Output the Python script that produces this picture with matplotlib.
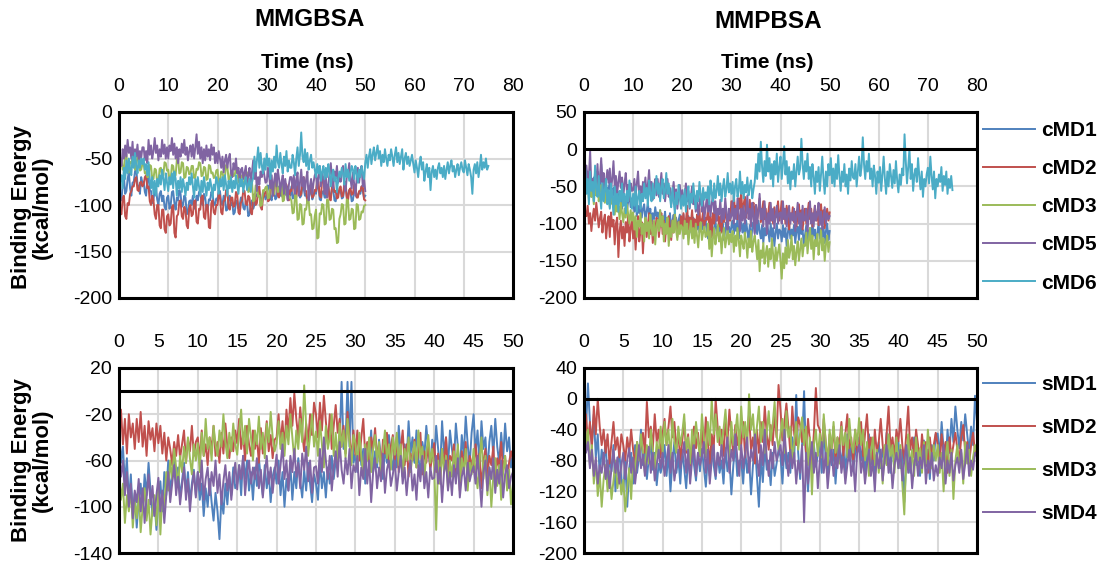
import numpy as np
import matplotlib
matplotlib.use("Agg")
import matplotlib.pyplot as plt

plt.rcParams['font.family'] = ['Liberation Sans', 'DejaVu Sans']
plt.rcParams['axes.unicode_minus'] = False

# ---------------- DATA (values every 0.25 ns) ----------------
# Top-left: MMGBSA, cMD runs
gb_cMD1 = [-80,-92,-95,-78,-70,-88,-85,-72,-65,-82,-90,-76,-75,-64,-60,-78,-80,-88,-70,-76,
           -75,-86,-90,-72,-70,-84,-85,-98,-95,-82,-80,-94,-100,-88,-85,-96,-90,-102,-105,-92,
           -90,-104,-100,-86,-85,-98,-105,-92,-95,-84,-88,-102,-100,-90,-92,-110,-108,-96,-95,-100,
           -90,-104,-102,-90,-95,-86,-85,-98,-100,-88,-92,-104,-105,-94,-95,-86,-88,-99,-100,-93,
           -95,-84,-85,-98,-100,-90,-92,-106,-105,-94,-90,-100,-98,-110,-108,-97,-95,-104,-100,-92,
           -92,-103,-105,-96,-98,-112,-110,-100,-95,-104,-100,-90,-90,-82,-85,-96,-95,-86,-88,-94,
           -90,-79,-80,-92,-95,-84,-85,-94,-92,-80,-82,-90,-90,-76,-78,-89,-88,-80,-85,-90,
           -80,-93,-92,-84,-85,-76,-78,-92,-90,-80,-82,-90,-88,-97,-95,-86,-85,-94,-90,-84,
           -88,-78,-80,-94,-95,-86,-85,-92,-92,-80,-78,-91,-90,-82,-84,-95,-96,-86,-88,-84,
           -85,-93,-92,-82,-80,-91,-90,-84,-86,-96,-95,-83,-82,-91,-90,-86,-88,-80,-85,-92,-90]
gb_cMD2 = [-95,-108,-110,-92,-90,-112,-115,-98,-100,-88,-85,-80,-80,-72,-70,-84,-85,-76,-75,-80,
           -78,-70,-68,-82,-80,-96,-100,-90,-95,-110,-115,-100,-100,-122,-125,-105,-105,-126,-130,-112,
           -110,-122,-120,-102,-100,-130,-135,-112,-110,-96,-95,-112,-115,-102,-105,-122,-125,-104,-100,-112,
           -110,-96,-95,-118,-120,-104,-105,-90,-90,-113,-115,-100,-100,-124,-125,-98,-95,-108,-110,-100,
           -100,-88,-90,-108,-110,-96,-95,-84,-85,-103,-105,-92,-92,-102,-100,-86,-88,-108,-110,-98,
           -95,-84,-85,-99,-100,-90,-92,-108,-110,-92,-88,-100,-98,-82,-80,-102,-105,-92,-90,-86,
           -85,-96,-95,-80,-80,-90,-88,-74,-75,-90,-92,-80,-82,-92,-90,-77,-78,-94,-95,-84,
           -85,-76,-78,-92,-92,-80,-80,-90,-88,-72,-70,-84,-85,-96,-95,-82,-80,-92,-90,-84,
           -85,-74,-75,-90,-92,-72,-70,-86,-88,-80,-80,-94,-95,-80,-78,-86,-85,-93,-92,-82,
           -80,-91,-90,-76,-75,-93,-95,-84,-82,-89,-88,-78,-78,-92,-92,-85,-85,-80,-80,-94,-95]
gb_cMD3 = [-70,-52,-50,-62,-60,-46,-45,-64,-65,-54,-55,-48,-50,-62,-60,-47,-48,-63,-62,-56,
           -55,-66,-65,-70,-70,-57,-58,-72,-72,-61,-62,-76,-75,-61,-60,-70,-68,-54,-55,-63,
           -62,-73,-72,-57,-58,-69,-68,-51,-50,-66,-65,-54,-55,-71,-70,-59,-60,-67,-66,-58,
           -58,-71,-70,-61,-62,-54,-55,-69,-68,-59,-60,-73,-72,-57,-58,-66,-65,-71,-70,-63,
           -62,-76,-75,-64,-65,-71,-70,-57,-58,-73,-72,-63,-64,-69,-68,-59,-60,-76,-75,-69,
           -68,-79,-78,-64,-65,-86,-85,-74,-75,-96,-95,-79,-80,-91,-90,-101,-100,-84,-85,-81,
           -80,-93,-92,-74,-75,-89,-88,-69,-70,-86,-85,-77,-78,-96,-95,-81,-82,-91,-90,-93,
           -95,-109,-108,-89,-90,-116,-115,-99,-100,-121,-120,-104,-105,-94,-95,-111,-110,-126,-125,-112,
           -105,-136,-135,-109,-110,-99,-100,-121,-120,-94,-95,-116,-115,-104,-105,-126,-125,-141,-140,-115,
           -110,-99,-100,-121,-120,-94,-95,-116,-115,-104,-105,-126,-125,-99,-100,-116,-115,-107,-108,-101,-100]
gb_cMD5 = [-65,-52,-58,-40,-50,-36,-48,-30,-44,-38,-50,-32,-55,-40,-48,-35,-52,-42,-50,-38,
           -38,-52,-42,-55,-30,-46,-36,-50,-42,-28,-44,-36,-52,-40,-48,-30,-45,-35,-50,-38,
           -50,-36,-42,-28,-46,-34,-50,-38,-55,-40,-48,-34,-44,-30,-46,-38,-52,-42,-36,-48,
           -35,-50,-38,-24,-45,-32,-50,-38,-55,-40,-52,-36,-48,-40,-52,-35,-46,-38,-55,-44,
           -55,-42,-50,-60,-48,-65,-52,-46,-60,-50,-45,-66,-70,-55,-62,-50,-66,-60,-75,-62,
           -60,-72,-65,-58,-80,-68,-60,-75,-65,-52,-72,-62,-85,-70,-78,-64,-70,-58,-68,-76,
           -75,-60,-70,-82,-68,-90,-74,-66,-80,-62,-72,-86,-75,-68,-88,-72,-82,-95,-78,-70,
           -70,-82,-68,-88,-72,-65,-90,-76,-62,-80,-70,-86,-72,-64,-95,-80,-72,-88,-76,-68,
           -65,-82,-70,-58,-80,-66,-72,-88,-70,-92,-78,-66,-55,-72,-82,-64,-70,-58,-76,-68,
           -75,-62,-58,-80,-85,-70,-66,-55,-72,-82,-65,-78,-90,-72,-60,-76,-64,-58,-80,-72,-85]
gb_cMD6 = [-95,-72,-68,-82,-60,-72,-52,-66,-50,-62,-68,-48,-60,-44,-58,-66,-52,-60,-50,-56,
           -50,-62,-56,-68,-54,-72,-82,-70,-88,-74,-90,-72,-80,-68,-78,-62,-72,-84,-66,-76,
           -85,-70,-78,-66,-82,-64,-72,-90,-74,-82,-70,-86,-72,-80,-90,-76,-84,-70,-78,-66,
           -80,-92,-72,-84,-70,-80,-90,-74,-86,-70,-80,-90,-76,-84,-72,-80,-92,-78,-84,-70,
           -75,-88,-72,-80,-70,-84,-68,-78,-90,-74,-82,-70,-86,-74,-82,-68,-78,-88,-72,-80,
           -72,-86,-76,-70,-84,-78,-72,-86,-76,-70,-48,-64,-52,-38,-60,-44,-58,-66,-50,-62,
           -45,-58,-50,-72,-52,-64,-48,-60,-36,-54,-60,-44,-56,-66,-48,-58,-42,-64,-52,-60,
           -60,-46,-54,-68,-50,-38,-58,-46,-22,-48,-54,-40,-58,-44,-62,-52,-46,-60,-54,-62,
           -70,-56,-66,-58,-74,-64,-58,-72,-60,-70,-56,-64,-80,-68,-62,-74,-70,-86,-72,-64,
           -70,-60,-66,-78,-56,-70,-62,-74,-66,-58,-62,-72,-58,-66,-76,-62,-70,-58,-66,-72,
           -55,-46,-60,-48,-40,-56,-46,-38,-52,-44,-36,-50,-42,-58,-46,-54,-40,-50,-58,-46,
           -52,-40,-48,-58,-46,-38,-54,-44,-56,-48,-40,-62,-50,-44,-56,-48,-58,-52,-46,-56,
           -65,-52,-60,-70,-56,-48,-62,-54,-74,-64,-56,-70,-60,-84,-64,-58,-70,-62,-72,-60,
           -55,-66,-60,-70,-58,-72,-62,-54,-66,-58,-52,-64,-58,-70,-62,-56,-68,-60,-54,-62,
           -65,-52,-60,-68,-56,-62,-70,-88,-62,-56,-66,-54,-70,-60,-46,-62,-54,-60,-50,-62,-58]

# Top-right: MMPBSA, cMD runs
pb_cMD1 = [-40,-58,-50,-30,-52,-44,-64,-50,-38,-60,-46,-30,-62,-50,-20,-48,-56,-40,-64,-52,
           -55,-42,-60,-70,-52,-62,-48,-58,-74,-56,-66,-80,-60,-72,-64,-82,-70,-60,-78,-66,
           -70,-84,-68,-90,-76,-86,-72,-92,-80,-74,-96,-84,-72,-90,-80,-100,-86,-94,-78,-90,
           -85,-98,-82,-104,-90,-96,-84,-106,-92,-100,-86,-110,-96,-88,-102,-92,-108,-96,-88,-100,
           -100,-88,-108,-94,-104,-90,-112,-98,-106,-92,-116,-100,-108,-96,-112,-102,-94,-108,-100,-96,
           -110,-120,-104,-124,-100,-116,-106,-96,-114,-104,-118,-98,-110,-100,-122,-108,-98,-116,-104,-112,
           -105,-96,-114,-100,-110,-92,-120,-104,-98,-112,-100,-116,-96,-110,-120,-102,-126,-106,-98,-112,
           -100,-114,-96,-110,-120,-102,-126,-106,-116,-98,-110,-124,-100,-118,-106,-130,-112,-100,-120,-108,
           -110,-124,-102,-118,-106,-130,-112,-100,-120,-108,-116,-102,-126,-110,-104,-122,-98,-114,-108,-130,
           -115,-102,-124,-110,-106,-120,-98,-116,-108,-130,-112,-100,-120,-106,-118,-104,-126,-110,-100,-122,-110]
pb_cMD2 = [-70,-84,-90,-76,-100,-86,-110,-92,-80,-96,-72,-88,-105,-92,-84,-112,-96,-88,-120,-100,
           -90,-118,-85,-104,-95,-128,-100,-92,-145,-110,-96,-120,-104,-130,-98,-112,-88,-124,-106,-95,
           -120,-100,-135,-108,-90,-124,-110,-98,-140,-106,-94,-118,-102,-86,-114,-96,-126,-104,-112,-92,
           -95,-118,-100,-86,-114,-96,-124,-102,-110,-90,-106,-122,-96,-112,-88,-104,-118,-98,-108,-90,
           -105,-86,-114,-96,-76,-108,-92,-100,-82,-106,-94,-116,-88,-102,-80,-110,-96,-84,-104,-92,
           -95,-80,-108,-90,-118,-86,-100,-76,-96,-86,-104,-90,-112,-84,-98,-78,-94,-106,-88,-96,
           -70,-88,-62,-84,-76,-94,-66,-80,-56,-88,-74,-64,-92,-78,-86,-68,-96,-80,-72,-90,
           -75,-94,-80,-66,-98,-84,-70,-94,-80,-104,-86,-72,-96,-82,-100,-78,-92,-84,-70,-96,
           -85,-70,-94,-80,-100,-76,-90,-108,-86,-94,-78,-98,-84,-104,-88,-74,-96,-82,-108,-90,
           -80,-100,-86,-72,-94,-80,-104,-90,-76,-96,-84,-102,-88,-74,-98,-82,-106,-92,-80,-96,-85]
pb_cMD3 = [-50,-36,-58,-46,-68,-42,-64,-54,-74,-50,-62,-40,-70,-56,-48,-66,-58,-72,-52,-64,
           -60,-78,-56,-74,-66,-88,-70,-84,-76,-94,-72,-86,-98,-80,-92,-74,-88,-100,-82,-96,
           -85,-108,-90,-118,-96,-104,-86,-114,-100,-124,-92,-110,-98,-120,-88,-106,-116,-96,-128,-104,
           -95,-110,-82,-104,-90,-124,-100,-114,-92,-130,-106,-118,-96,-112,-84,-108,-122,-98,-114,-102,
           -105,-120,-96,-114,-100,-128,-110,-96,-120,-106,-126,-100,-116,-132,-108,-98,-122,-112,-104,-118,
           -115,-100,-134,-110,-144,-120,-106,-128,-116,-102,-124,-112,-140,-118,-106,-132,-120,-108,-128,-114,
           -125,-110,-138,-116,-130,-106,-122,-144,-116,-126,-134,-112,-124,-146,-120,-132,-110,-138,-124,-116,
           -130,-148,-122,-164,-136,-146,-126,-154,-140,-130,-158,-134,-148,-120,-142,-160,-132,-150,-138,-128,
           -150,-174,-140,-160,-132,-154,-122,-146,-136,-116,-148,-130,-156,-138,-124,-150,-134,-120,-144,-128,
           -130,-112,-140,-122,-106,-134,-116,-148,-122,-130,-114,-142,-126,-108,-136,-120,-150,-128,-116,-138,-125]
pb_cMD5 = [-30,-48,-22,-44,-36,-2,-52,-40,-60,-30,-46,-20,-54,-38,-12,-44,-32,-56,-42,-28,
           -45,-26,-54,-40,-16,-50,-36,-60,-44,-30,-52,-38,-64,-46,-32,-58,-48,-70,-46,-56,
           -55,-40,-64,-46,-30,-60,-50,-70,-44,-54,-38,-62,-48,-28,-58,-44,-68,-52,-40,-62,
           -40,-64,-50,-32,-60,-46,-70,-54,-40,-64,-52,-74,-58,-44,-68,-54,-80,-62,-48,-72,
           -55,-74,-60,-46,-70,-56,-80,-64,-50,-74,-62,-84,-70,-88,-74,-60,-84,-68,-94,-78,
           -65,-84,-70,-90,-74,-60,-86,-70,-96,-80,-88,-68,-98,-80,-94,-66,-84,-108,-80,-94,
           -90,-70,-100,-80,-94,-66,-86,-110,-80,-96,-76,-100,-86,-62,-94,-80,-104,-72,-90,-114,
           -75,-100,-84,-60,-94,-80,-104,-70,-90,-114,-86,-100,-72,-96,-80,-106,-90,-76,-100,-86,
           -85,-100,-70,-94,-80,-104,-90,-76,-100,-86,-96,-80,-110,-90,-72,-100,-86,-106,-76,-96,
           -95,-80,-110,-90,-70,-100,-86,-104,-76,-96,-88,-72,-102,-84,-108,-92,-78,-100,-86,-94,-90]
pb_cMD6 = [-50,-26,-60,-40,-74,-30,-56,-44,-70,-22,-52,-64,-36,-60,-80,-46,-70,-54,-40,-74,
           -55,-80,-46,-64,-88,-50,-74,-60,-84,-56,-70,-46,-76,-60,-86,-56,-70,-42,-66,-80,
           -60,-76,-50,-84,-64,-56,-80,-60,-70,-46,-66,-52,-76,-42,-60,-70,-46,-66,-56,-36,
           -60,-46,-70,-50,-40,-66,-56,-32,-60,-46,-64,-78,-52,-70,-86,-58,-74,-48,-66,-80,
           -62,-76,-54,-84,-66,-50,-78,-60,-72,-46,-64,-80,-56,-70,-44,-62,-76,-52,-68,-58,
           -66,-50,-74,-42,-60,-70,-46,-66,-56,-36,-62,-46,-70,-52,-40,-64,-54,-32,-58,-46,
           -60,-44,-70,-50,-40,-64,-56,-30,-60,-44,-66,-48,-58,-38,-62,-50,-42,-66,-54,-44,
           -20,-40,-6,-30,10,-24,-44,-16,-36,6,-30,-12,-40,-20,-50,-16,-34,-6,-44,-24,
           -10,-40,-20,4,-34,-16,-46,-24,-54,-30,-40,-20,-50,-30,-10,-34,-26,14,-20,-40,
           -16,-30,-6,-40,-24,-50,-20,-36,-60,-30,-44,-24,-56,-34,-10,-40,-60,-30,-50,-20,
           -35,-12,-46,-26,-50,-20,-40,-8,-36,-56,-30,-44,-20,-50,-34,-60,-26,-42,-16,-38,
           -40,-20,-50,-30,-10,-36,-24,16,-20,-40,-16,-30,-6,-40,-26,-50,-22,-36,-60,-30,
           -45,-24,-56,-34,-10,-40,-60,-30,-50,-20,-36,-52,-28,-46,-16,-42,-58,-34,-48,-26,
           -35,20,-16,-46,-24,0,-40,-20,-56,-34,-26,-44,-12,-36,-54,-30,-64,-40,-50,-34,
           -25,-46,-10,-36,-54,-30,-66,-40,-50,-34,-44,-24,-56,-36,-48,-30,-60,-40,-52,-36,-55]

# Bottom-left: MMGBSA, sMD runs
gb_sMD1 = [-30,-62,-48,-80,-58,-96,-72,-106,-88,-118,-94,-80,-104,-72,-90,-62,-86,-108,-94,-120,
           -95,-78,-104,-70,-90,-60,-86,-74,-56,-80,-66,-92,-78,-62,-88,-70,-96,-80,-68,-90,
           -70,-94,-80,-108,-84,-100,-76,-96,-112,-88,-104,-128,-92,-106,-80,-98,-74,-90,-66,-84,
           -80,-64,-90,-56,-76,-60,-86,-70,-94,-66,-82,-58,-76,-90,-64,-84,-70,-96,-74,-66,
           -80,-60,-90,-70,-100,-76,-86,-64,-94,-70,-84,-58,-78,-92,-68,-86,-62,-80,-96,-72,
           -80,-94,-60,-84,-70,-92,-66,-80,-56,-76,-60,-52,-44,8,-50,-44,8,-48,8,-62,
           -55,-70,-40,-64,-50,-80,-46,-60,-34,-70,-52,-66,-42,-58,-76,-48,-62,-38,-56,-68,
           -50,-66,-30,-54,-74,-46,-60,-26,-54,-40,-62,-34,-58,-72,-44,-56,-30,-50,-66,-42,
           -60,-30,-50,-70,-26,-54,-40,-66,-34,-50,-62,-28,-48,-72,-38,-56,-22,-46,-64,-36,
           -20,-54,-34,-64,-26,-50,-40,-70,-44,-30,-56,-24,-48,-62,-36,-58,-28,-52,-40,-66,-55]
gb_sMD2 = [-40,-16,-46,-24,-54,-20,-40,-28,-50,-24,-44,-18,-48,-30,-56,-26,-42,-32,-52,-28,
           -45,-30,-54,-36,-60,-40,-50,-64,-44,-56,-38,-58,-46,-34,-62,-42,-52,-30,-56,-44,
           -40,-60,-34,-56,-46,-64,-40,-50,-30,-56,-44,-62,-36,-54,-28,-48,-58,-40,-52,-34,
           -45,-24,-50,-36,-60,-30,-46,-56,-34,-50,-40,-62,-32,-54,-44,-26,-52,-38,-58,-42,
           -40,-20,-46,-26,-50,-16,-36,-6,-30,-2,-24,-40,-14,-36,-52,-28,-44,-20,-38,-10,
           -20,-40,-10,-34,-4,-26,-46,-20,-50,-30,-12,-36,-24,-48,-30,-54,-18,-40,-58,-34,
           -55,-34,-60,-40,-24,-56,-44,-66,-40,-50,-32,-58,-46,-70,-42,-54,-36,-62,-48,-38,
           -60,-40,-70,-50,-34,-64,-46,-74,-54,-60,-42,-66,-50,-36,-72,-52,-62,-44,-68,-56,
           -45,-70,-54,-80,-50,-64,-40,-74,-56,-60,-46,-72,-58,-86,-52,-66,-44,-76,-56,-62,
           -70,-46,-64,-54,-84,-60,-50,-74,-56,-64,-48,-78,-58,-66,-44,-70,-56,-82,-62,-52,-60]
gb_sMD3 = [-70,-94,-80,-114,-90,-104,-84,-118,-96,-110,-88,-122,-100,-84,-112,-94,-124,-102,-90,-116,
           -80,-124,-90,-100,-70,-86,-60,-76,-50,-66,-82,-56,-70,-48,-62,-40,-58,-72,-46,-60,
           -45,-70,-36,-56,-24,-50,-40,-60,-30,-46,-56,-34,-48,-20,-44,-58,-36,-52,-28,-46,
           -55,-34,-16,-46,-30,-54,-24,-40,-60,-34,-46,-22,-50,-36,-58,-28,-44,-18,-40,-52,
           -45,-26,-50,-36,-56,-30,-46,-20,-40,-60,-34,-50,-24,-44,5,-30,-56,-38,-20,-48,
           -35,-56,-26,-46,-66,-30,-50,-40,-20,-56,-36,-62,-28,-48,-34,-58,-24,-44,-64,-38,
           -45,-64,-36,-56,-74,-46,-60,-40,-70,-50,-38,-62,-44,-72,-52,-34,-58,-46,-68,-40,
           -55,-36,-64,-46,-74,-50,-60,-40,-70,-56,-44,-66,-34,-58,-48,-76,-54,-38,-62,-50,
           -65,-120,-60,-80,-50,-70,-56,-84,-60,-74,-52,-66,-46,-78,-58,-70,-50,-86,-62,-72,
           -50,-70,-84,-60,-40,-76,-56,-90,-66,-100,-74,-58,-82,-64,-94,-70,-56,-86,-68,-98,-80]
gb_sMD4 = [-50,-74,-60,-90,-70,-100,-80,-110,-86,-96,-76,-104,-84,-114,-92,-72,-98,-82,-108,-90,
           -75,-104,-86,-114,-90,-70,-96,-80,-64,-90,-74,-98,-82,-66,-94,-76,-104,-84,-70,-92,
           -70,-86,-60,-94,-76,-66,-90,-70,-82,-60,-88,-72,-98,-78,-64,-86,-70,-94,-76,-62,
           -85,-64,-76,-56,-90,-70,-60,-80,-66,-76,-58,-84,-68,-92,-72,-56,-80,-66,-88,-70,
           -55,-80,-64,-46,-76,-60,-86,-56,-70,-50,-74,-62,-84,-54,-68,-48,-78,-60,-88,-66,
           -65,-80,-50,-70,-40,-60,-76,-56,-86,-66,-52,-74,-44,-68,-80,-58,-72,-50,-84,-64,
           -70,-56,-90,-66,-76,-50,-80,-60,-96,-70,-58,-84,-66,-78,-54,-88,-68,-60,-82,-72,
           -60,-86,-70,-56,-80,-66,-90,-70,-60,-86,-72,-94,-64,-78,-56,-84,-70,-92,-66,-76,
           -75,-56,-80,-66,-96,-70,-60,-86,-70,-90,-64,-80,-58,-92,-74,-66,-86,-62,-78,-70,
           -65,-80,-56,-76,-100,-70,-60,-86,-66,-76,-58,-88,-68,-80,-60,-92,-72,-64,-84,-74,-70]

# Bottom-right: MMPBSA, sMD runs
pb_sMD1 = [0,-40,20,-30,-60,-20,-76,-46,-100,-66,-84,-54,-110,-76,-94,-60,-120,-86,-70,-104,
           -120,-80,-140,-90,-70,-110,-60,-96,-76,-40,-86,-64,-104,-76,-56,-92,-70,-112,-84,-96,
           -85,-60,-100,-70,-120,-80,-56,-96,-76,-110,-66,-90,-116,-76,-100,-60,-86,-106,-70,-94,
           -65,-90,-114,-76,-100,-60,-86,-104,-70,-96,-80,-110,-64,-94,-76,-124,-86,-60,-100,-80,
           -80,-110,-66,-96,-76,-124,-86,-60,-100,-140,-76,-108,-62,-92,-80,-112,-70,-100,-84,-66,
           -75,-110,-60,-90,-70,-96,-50,-76,5,-70,-104,-60,10,-80,-120,-70,-96,-60,-88,-72,
           -60,-96,-40,-76,-100,-56,-86,-66,-110,-70,-52,-88,-64,-100,-46,-80,-62,-94,-70,-56,
           -50,-80,-60,-96,-70,-46,-86,-66,-100,-76,-56,-90,-64,-84,-44,-74,-96,-60,-82,-70,
           -55,-90,-66,-134,-80,-60,-96,-70,-50,-86,-64,-100,-72,-54,-88,-66,-104,-60,-80,-46,
           -45,-76,-30,-66,-90,-40,-70,-26,-56,-10,-40,-64,-30,-54,-20,-46,-70,-36,-60,4,-30]
pb_sMD2 = [-40,-20,-56,-30,-64,-10,-46,0,-36,-60,-40,-70,-46,-84,-56,-30,-66,-50,-76,-46,
           -60,-80,-50,-70,-40,-66,-86,-56,-76,-60,-44,-70,-4,-50,-36,-66,-20,-56,-40,-76,
           -45,-26,-60,-36,-10,-50,-30,-66,-44,-80,-54,-30,-70,-46,-86,-56,-36,-64,-44,-74,
           -40,-70,-24,-56,-84,-46,-66,0,-36,-60,-40,-74,-30,-56,-14,-50,-70,-34,-60,-44,
           -60,-30,-76,-44,-20,-66,-50,-84,-40,-70,-30,-56,-10,-46,-66,-34,-60,-20,-50,18,
           -15,-54,-30,-6,-36,-70,-10,-46,-60,-24,-34,-56,-40,-70,-26,-56,-84,-44,14,-34,
           -40,-70,-26,-56,-84,-46,-66,-36,-80,-50,-60,-30,-74,-46,-20,-64,-50,-86,-40,-70,
           -60,-30,-76,-46,-20,-64,-50,-86,-40,-70,-56,-26,-60,-80,-46,-10,-66,-50,-76,-40,
           -55,-26,-60,-80,-46,-10,-66,-50,-76,-40,-60,-86,-46,-70,-56,-96,-50,-76,-60,-44,
           -60,-86,-46,-70,-56,-96,-50,-76,-60,-44,-66,-80,-50,-34,-70,-56,-84,-60,-44,-70,-65]
pb_sMD3 = [-20,-60,-40,-86,-60,-110,-80,-126,-96,-140,-104,-86,-120,-94,-130,-106,-80,-116,-96,-124,
           -105,-146,-116,-90,-130,-76,-100,-56,-80,-46,-70,-96,-60,-84,-40,-66,-90,-56,-76,-36,
           -70,-30,-60,-40,-80,-26,-56,-70,-36,-60,-44,-20,-66,-50,-84,-40,-64,-30,-56,-74,
           -20,-50,-76,-30,-60,0,-46,-20,-56,-36,-64,-40,-14,-54,-76,-30,-60,-44,-20,-66,
           -10,-50,-30,-66,6,-40,-20,-60,-36,-10,-56,-30,-70,-44,-16,-54,-34,-4,-46,-66,
           -45,-26,-70,-16,-50,-36,-80,-56,-30,-66,-44,-24,-60,-36,-86,-50,-124,-60,-40,-74,
           -45,-76,-20,-56,-86,-40,-66,-30,-70,-50,-84,-36,-60,-44,-76,-26,-56,-70,-40,-60,
           -25,-60,-40,-80,-56,-100,-70,-50,-86,-66,-96,-70,-110,-60,-86,-46,-76,-60,-96,-50,
           -90,-60,-110,-150,-76,-46,-90,-66,-100,-50,-80,-64,-96,-56,-84,-40,-70,-90,-60,-80,
           -60,-96,-70,-120,-76,-56,-100,-66,-130,-80,-60,-90,-70,-110,-56,-84,-66,-100,-76,-60,-70]
pb_sMD4 = [-40,-70,-56,-90,-66,-100,-76,-110,-86,-96,-70,-104,-80,-116,-90,-66,-96,-76,-110,-86,
           -70,-104,-80,-64,-96,-76,-110,-86,-60,-90,-72,-100,-80,-62,-96,-70,-106,-86,-66,-90,
           -70,-100,-80,-60,-96,-70,-106,-86,-66,-90,-76,-56,-96,-66,-110,-80,-60,-100,-70,-86,
           -75,-56,-96,-66,-110,-80,-60,-100,-70,-86,-60,-90,-70,-50,-96,-66,-80,-46,-76,-100,
           -60,-90,-70,-50,-96,-66,-80,-46,-76,-100,-60,-86,-40,-76,-100,-66,-90,-56,-80,-70,
           -60,-86,-40,-76,-100,-66,-90,-70,-110,-80,-96,-60,-160,-70,-110,-80,-56,-96,-70,-116,
           -80,-56,-96,-70,-116,-86,-66,-100,-76,-90,-60,-96,-76,-110,-86,-66,-100,-80,-120,-70,
           -60,-96,-76,-110,-86,-66,-100,-80,-120,-70,-90,-66,-106,-80,-60,-96,-76,-116,-86,-70,
           -90,-66,-106,-80,-60,-96,-76,-116,-86,-70,-100,-76,-90,-60,-110,-80,-96,-70,-106,-86,
           -100,-76,-90,-60,-110,-80,-96,-70,-106,-86,-76,-96,-66,-104,-84,-60,-100,-80,-92,-70,-75]

c_labels = ["cMD1", "cMD2", "cMD3", "cMD5", "cMD6"]
s_labels = ["sMD1", "sMD2", "sMD3", "sMD4"]
c_end = [50, 50, 50, 50, 75]   # run length (ns)
s_end = [50, 50, 50, 50]

colors5 = ["#4F81BD", "#C0504D", "#9BBB59", "#8064A2", "#4BACC6"]

# ---------------- FIGURE ----------------
W, H = 1114, 563
fig = plt.figure(figsize=(W / 100, H / 100), dpi=100)


def box(x0, x1, y0, y1):
    return [x0 / W, 1 - y1 / H, (x1 - x0) / W, (y1 - y0) / H]


ax_tl = fig.add_axes(box(119, 513, 112, 298))
ax_tr = fig.add_axes(box(584, 977, 112, 298))
ax_bl = fig.add_axes(box(119, 513, 368, 553))
ax_br = fig.add_axes(box(584, 977, 368, 553))

TICK_FS = 14
LAB_FS = 16


def style(ax, xlim, xticks, ylim, yticks, zero_line):
    ax.set_xlim(*xlim)
    ax.set_ylim(*ylim)
    ax.set_xticks(xticks)
    ax.set_yticks(yticks)
    ax.xaxis.tick_top()
    ax.tick_params(axis='both', length=0, labelsize=TICK_FS, colors='black')
    ax.tick_params(axis='x', pad=12)
    ax.tick_params(axis='y', pad=5)
    ax.grid(True, color='#d9d9d9', lw=1.5)
    ax.set_axisbelow(True)
    for s in ax.spines.values():
        s.set_linewidth(2.2)
        s.set_color('black')
        s.set_zorder(10)
    if zero_line:
        ax.axhline(0, color='black', lw=2.2, zorder=5)


def draw(ax, series, ends, labels):
    for vals, end, lab, col in zip(series, ends, labels, colors5):
        t = np.linspace(0, end, len(vals))
        ax.plot(t, vals, color=col, lw=1.4, label=lab, zorder=3)


draw(ax_tl, [gb_cMD1, gb_cMD2, gb_cMD3, gb_cMD5, gb_cMD6], c_end, c_labels)
draw(ax_tr, [pb_cMD1, pb_cMD2, pb_cMD3, pb_cMD5, pb_cMD6], c_end, c_labels)
draw(ax_bl, [gb_sMD1, gb_sMD2, gb_sMD3, gb_sMD4], s_end, s_labels)
draw(ax_br, [pb_sMD1, pb_sMD2, pb_sMD3, pb_sMD4], s_end, s_labels)

style(ax_tl, (0, 80), range(0, 81, 10), (-200, 0), range(-200, 1, 50), False)
style(ax_tr, (0, 80), range(0, 81, 10), (-200, 50), range(-200, 51, 50), True)
style(ax_bl, (0, 50), range(0, 51, 5), (-140, 20), range(-140, 21, 40), True)
style(ax_br, (0, 50), range(0, 51, 5), (-200, 40), range(-200, 41, 40), True)

# Titles & axis labels
fig.text(310 / W, 1 - 20 / H, "MMGBSA", ha='center', va='center', fontsize=17.5, fontweight='bold')
fig.text(768 / W, 1 - 22 / H, "MMPBSA", ha='center', va='center', fontsize=17.5, fontweight='bold')
fig.text(307 / W, 1 - 63 / H, "Time (ns)", ha='center', va='center', fontsize=15, fontweight='bold')
fig.text(767 / W, 1 - 62 / H, "Time (ns)", ha='center', va='center', fontsize=15, fontweight='bold')
for yc in (207, 460):
    fig.text(32 / W, 1 - yc / H, "Binding Energy\n(kcal/mol)", ha='center', va='center',
             rotation=90, fontsize=LAB_FS, fontweight='bold', linespacing=1.0)

# Legends
ax_tr.legend(loc='upper left', bbox_to_anchor=(983 / W, 1 - 121 / H),
             bbox_transform=fig.transFigure, frameon=False, handlelength=2.5,
             handletextpad=0.3, labelspacing=0.92, borderaxespad=0, borderpad=0,
             prop={'weight': 'bold', 'size': 15})
ax_br.legend(loc='upper left', bbox_to_anchor=(983 / W, 1 - 375 / H),
             bbox_transform=fig.transFigure, frameon=False, handlelength=2.5,
             handletextpad=0.3, labelspacing=1.15, borderaxespad=0, borderpad=0,
             prop={'weight': 'bold', 'size': 15})

fig.savefig("out.png", dpi=100)
